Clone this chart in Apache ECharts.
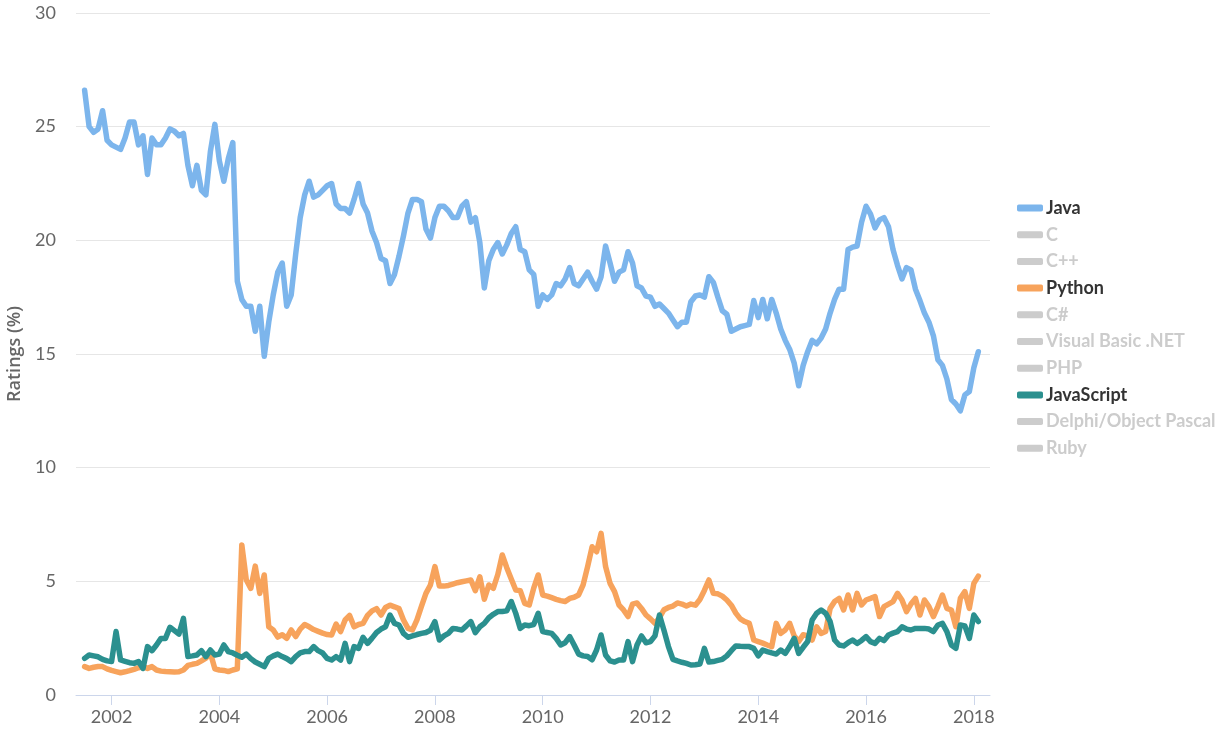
<!DOCTYPE html>
<html>
<head>
<meta charset="utf-8">
<script src="https://cdn.jsdelivr.net/npm/echarts@6/dist/echarts.min.js"></script>
<style>
html,body{margin:0;padding:0;background:#fff;}
#chart{width:1223px;height:737px;}
</style>
</head>
<body>
<div id="chart"></div>
<script>
// Monthly ratings (%) from July 2001 to February 2018
const startYear = 2001, startMonth = 7; // first month of data
const seriesNames = ['Java','C','C++','Python','C#','Visual Basic .NET','PHP','JavaScript','Delphi/Object Pascal','Ruby'];
const shownSeries = ['Java','Python','JavaScript'];
const yearTicks = [2002,2004,2006,2008,2010,2012,2014,2016,2018];
const yTicks = [0,5,10,15,20,25,30];

const java = [
26.6,25.0,24.75,24.9,25.7,24.4,24.2,24.1,24.0,24.5,
25.2,25.2,24.2,24.6,22.9,24.5,24.2,24.2,24.5,24.9,
24.8,24.6,24.7,23.3,22.4,23.3,22.2,22.0,23.9,25.1,
23.5,22.6,23.6,24.3,18.2,17.4,17.1,17.1,16.0,17.1,
14.9,16.4,17.6,18.6,19.0,17.1,17.6,19.4,21.0,22.0,
22.6,21.9,22.0,22.2,22.4,22.5,21.6,21.4,21.4,21.2,
21.8,22.5,21.6,21.2,20.4,19.9,19.2,19.1,18.1,18.5,
19.3,20.2,21.2,21.8,21.8,21.7,20.5,20.1,21.0,21.5,
21.5,21.3,21.0,21.0,21.5,21.7,20.8,21.0,19.9,17.9,
19.1,19.6,19.9,19.4,19.8,20.3,20.6,19.6,19.5,18.7,
18.5,17.1,17.6,17.4,17.6,18.1,18.0,18.3,18.8,18.1,
18.0,18.3,18.6,18.2,17.85,18.4,19.75,19.0,18.2,18.6,
18.7,19.5,19.0,18.0,17.9,17.55,17.5,17.1,17.2,17.0,
16.8,16.5,16.2,16.4,16.4,17.3,17.55,17.6,17.5,18.4,
18.15,17.5,16.9,16.75,16.0,16.1,16.2,16.25,16.3,17.35,
16.6,17.4,16.55,17.4,16.8,16.1,15.6,15.2,14.6,13.6,
14.5,15.1,15.6,15.45,15.7,16.1,16.8,17.4,17.85,17.85,
19.6,19.7,19.75,20.8,21.5,21.15,20.55,20.9,21.0,20.6,
19.6,18.9,18.3,18.8,18.7,17.85,17.35,16.8,16.4,15.8,
14.75,14.5,13.9,13.0,12.8,12.5,13.2,13.35,14.4,15.1
];

const python = [
1.25,1.17,1.22,1.25,1.25,1.15,1.08,1.03,0.98,1.02,
1.07,1.13,1.2,1.25,1.17,1.25,1.1,1.05,1.03,1.02,
1.01,1.02,1.1,1.3,1.35,1.39,1.5,1.62,1.85,1.15,
1.1,1.08,1.03,1.1,1.15,6.6,5.06,4.69,5.67,4.47,
5.28,3.0,2.86,2.55,2.65,2.49,2.86,2.57,2.9,3.1,
3.0,2.88,2.8,2.72,2.66,2.64,3.12,2.79,3.3,3.5,
3.0,3.1,3.15,3.5,3.7,3.8,3.52,3.85,3.95,3.88,
3.8,3.3,2.93,2.86,3.3,3.9,4.47,4.84,5.65,4.79,
4.79,4.82,4.88,4.94,4.98,5.02,5.06,4.59,5.2,4.21,
4.84,4.69,5.3,6.16,5.6,5.1,4.62,4.59,4.03,3.96,
4.7,5.28,4.4,4.35,4.28,4.21,4.15,4.11,4.25,4.3,
4.4,4.84,5.65,6.52,6.3,7.11,5.65,4.91,4.55,3.95,
3.74,3.45,4.0,4.05,3.81,3.52,3.35,3.15,3.4,3.75,
3.85,3.91,4.05,4.0,3.91,4.0,3.95,4.2,4.6,5.06,
4.47,4.45,4.35,4.18,3.95,3.6,3.35,3.23,3.15,2.42,
2.35,2.28,2.2,2.13,3.15,2.71,2.86,3.15,2.6,2.35,
2.65,2.6,2.42,3.0,2.71,2.79,3.81,4.11,4.25,3.74,
4.4,3.74,4.47,3.96,4.18,4.25,4.33,3.45,3.89,4.0,
4.11,4.47,4.18,3.67,4.0,4.25,3.52,4.18,3.89,3.45,
3.9,4.4,3.81,3.74,3.0,4.25,4.55,3.81,4.91,5.23
];

const javascript = [
1.61,1.76,1.72,1.68,1.57,1.5,1.47,2.79,1.54,1.48,
1.42,1.39,1.47,1.17,2.13,1.95,2.2,2.49,2.49,2.98,
2.83,2.68,3.37,1.69,1.72,1.76,1.95,1.69,1.98,1.76,
1.8,2.2,1.91,1.85,1.75,1.66,1.8,1.6,1.45,1.35,
1.25,1.61,1.72,1.8,1.69,1.6,1.47,1.69,1.85,1.91,
1.91,2.13,1.95,1.85,1.61,1.54,1.69,1.54,2.27,1.47,
2.13,2.05,2.54,2.27,2.5,2.75,2.9,3.0,3.52,3.15,
3.08,2.71,2.54,2.6,2.66,2.71,2.75,2.85,3.23,2.42,
2.6,2.71,2.93,2.9,2.86,3.04,3.23,2.74,3.0,3.15,
3.4,3.55,3.67,3.67,3.7,4.11,3.59,2.93,3.08,3.05,
3.1,3.59,2.79,2.75,2.71,2.49,2.2,2.3,2.57,2.2,
1.8,1.72,1.69,1.55,1.98,2.64,1.76,1.5,1.45,1.54,
1.54,2.35,1.47,2.2,2.6,2.3,2.35,2.6,3.52,2.85,
2.13,1.57,1.5,1.44,1.39,1.32,1.33,1.36,2.05,1.45,
1.47,1.52,1.57,1.72,1.95,2.16,2.14,2.13,2.13,2.05,
1.72,1.98,1.91,1.85,1.8,1.98,1.83,2.13,2.49,1.83,
2.1,2.35,3.3,3.6,3.74,3.6,3.23,2.42,2.2,2.16,
2.3,2.42,2.27,2.4,2.57,2.35,2.27,2.49,2.39,2.64,
2.72,2.79,3.0,2.9,2.86,2.93,2.93,2.93,2.9,2.79,
3.08,3.15,2.79,2.2,2.05,3.08,3.04,2.49,3.52,3.23
];

const valuesByName = { 'Java': java, 'Python': python, 'JavaScript': javascript };
const palette = ['#7cb5ec','#434348','#90ed7d','#f7a35c','#8085e9','#f15c80','#e4d354','#2b908f','#f45b5b','#91e8e1'];

// position of each monthly sample on a decimal-year axis
const dates = java.map((_, i) => startYear + (startMonth - 1 + i) / 12);

const FONT = 'Lato, "Noto Sans", sans-serif';

const selected = {};
seriesNames.forEach(n => { selected[n] = shownSeries.indexOf(n) >= 0; });

const series = seriesNames.map((n, i) => ({
  name: n,
  type: 'line',
  showSymbol: false,
  symbol: 'none',
  smooth: false,
  color: palette[i],
  lineStyle: { width: 5.5, color: palette[i], cap: 'round', join: 'round' },
  emphasis: { disabled: true },
  data: (valuesByName[n] || []).map((v, k) => [dates[k], v])
}));

const chart = echarts.init(document.getElementById('chart'), null, { renderer: 'canvas' });
chart.setOption({
  animation: false,
  backgroundColor: '#ffffff',
  textStyle: { fontFamily: FONT },
  grid: { left: 76, right: 233, top: 13, bottom: 42, containLabel: false, outerBoundsMode: 'none' },
  legend: {
    orient: 'vertical',
    left: 1017,
    top: 199,
    padding: 0,
    itemWidth: 26,
    itemHeight: 7,
    itemGap: 8.7,
    icon: 'roundRect',
    selected: selected,
    inactiveColor: '#cccccc',
    textStyle: { fontFamily: FONT, fontSize: 18, fontWeight: 'bold', color: '#333333', padding: [0, 0, 0, -2] },
    data: seriesNames
  },
  xAxis: {
    type: 'value',
    min: 2001.34,
    max: 2018.30,
    splitLine: { show: false },
    axisLine: { show: true, onZero: false, lineStyle: { color: '#ccd6eb', width: 1 } },
    axisTick: { show: true, length: 10, lineStyle: { color: '#ccd6eb' }, customValues: yearTicks },
    axisLabel: {
      color: '#666666', fontSize: 18, fontFamily: FONT, margin: 13,
      customValues: yearTicks,
      formatter: v => String(Math.round(v))
    }
  },
  yAxis: {
    type: 'value',
    min: yTicks[0],
    max: yTicks[yTicks.length - 1],
    interval: 5,
    name: 'Ratings (%)',
    nameLocation: 'middle',
    nameGap: 50,
    nameTextStyle: { color: '#666666', fontSize: 18, fontFamily: '"Open Sans", sans-serif', fontWeight: 600 },
    axisLine: { show: false },
    axisTick: { show: false },
    splitLine: { lineStyle: { color: '#e6e6e6', width: 1 } },
    axisLabel: { color: '#666666', fontSize: 18, fontFamily: FONT, margin: 20 }
  },
  series: series
});
</script>
</body>
</html>
